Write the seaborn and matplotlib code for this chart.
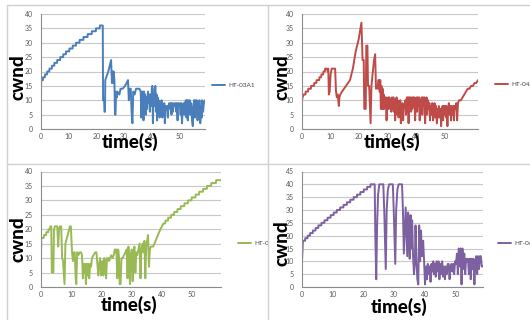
import matplotlib
matplotlib.use("Agg")
import matplotlib.pyplot as plt
from matplotlib.lines import Line2D
from matplotlib.transforms import Bbox, TransformedBbox
import seaborn as sns
import pandas as pd

# ---------------- data ----------------
labels = ["HT-03A1", "HT-04A1", "HT-05A1", "HT-06A1"]
colors = ["#4A7EBB", "#BE4B48", "#98B954", "#7D60A0"]
y_max = [40, 40, 40, 45]
x_ticks = [0, 10, 20, 30, 40, 50]

t1 = [0, 0.05, 0.7, 0.75, 1.4, 1.45, 2.2, 2.25, 3.0, 3.05, 3.9, 3.95, 4.8, 4.85, 5.8, 5.85, 6.9, 6.95, 8.0, 8.05,
      9.0, 9.05, 10.2, 10.25, 11.4, 11.45, 12.6, 12.65, 13.9, 13.95, 15.3, 15.35, 16.8, 16.85, 18.3, 18.35, 19.8, 19.85,
      21.2, 21.25, 22.3,
      22.4, 22.8, 22.9, 23.1, 23.2, 24.3, 25.3, 25.6, 25.8, 26.0, 26.2, 26.5, 26.7, 26.9, 27.1, 27.4, 27.6, 28.3, 28.7,
      29.5, 30.3, 30.9, 31.4, 31.7, 32.0, 32.4, 32.7, 33.0, 33.3, 33.8, 34.3, 35.5, 36.0, 36.2, 36.4, 36.6, 36.8, 37.0,
      37.2, 37.4, 37.6, 37.9, 38.1, 38.3, 38.6, 38.8, 39.1, 39.3, 39.5, 39.8, 40.0, 40.2, 40.4, 40.6, 40.8, 41.0, 41.3,
      41.5, 41.7, 41.9, 42.1, 42.3, 42.5, 42.8, 43.0, 43.3, 43.5, 43.8, 44.0, 44.3, 44.5, 44.7, 44.9, 45.2, 45.5, 45.8,
      46.0, 46.3, 46.6, 46.8, 47.1, 47.3, 47.6, 47.9, 48.2, 48.5, 48.8, 49.0, 49.3, 49.5, 49.8, 50.1, 50.4, 50.6, 50.9,
      51.2, 51.5, 51.8, 52.0, 52.3, 52.5, 52.7, 53.0, 53.2, 53.4, 53.7, 53.9, 54.2, 54.5, 54.8, 55.0, 55.3, 55.5, 55.7,
      56.0, 56.2, 56.5, 56.7, 57.0, 57.2, 57.5, 57.7, 58.0, 58.2, 58.5, 58.8, 59.2]
v1 = [10, 17, 17, 18, 18, 19, 19, 20, 20, 21, 21, 22, 22, 23, 23, 24, 24, 25, 25, 26,
      26, 27, 27, 28, 28, 29, 29, 30, 30, 31, 31, 32, 32, 33, 33, 34, 34, 35,
      35, 36, 36,
      10, 10, 6, 6, 17, 20, 24, 16, 20, 16, 20, 17, 5, 5, 13, 11, 13, 12, 14,
      14, 15, 16, 17, 10, 14, 14, 6, 2, 13, 12, 14, 14, 13, 4, 13, 6, 13, 3,
      13, 8, 12, 5, 11, 7, 13, 9, 12, 6, 12, 8, 14, 15, 2, 12, 8, 14, 15,
      6, 12, 3, 11, 6, 10, 4, 9, 5, 10, 4, 8, 5, 9, 2, 8, 7, 8, 4,
      8, 9, 7, 9, 5, 9, 6, 9, 8, 9, 6, 9, 3, 9, 8, 9, 5, 9, 2,
      8, 9, 5, 9, 10, 4, 10, 3, 10, 7, 10, 5, 9, 3, 1, 8, 10, 4, 10,
      6, 10, 3, 9, 5, 10, 2, 8, 4, 10, 6, 9, 10]

t2 = [0, 0.2, 0.6, 1.2, 1.3, 2.1, 2.2, 3.1, 3.2, 4.2, 4.3, 5.0, 5.1, 6.0, 6.1, 6.7, 6.8, 7.4, 7.5, 8.0,
      8.1, 8.8, 9.0, 9.2, 9.4, 9.7, 10.0, 10.4, 11.6, 11.9, 12.2, 12.5, 12.9, 13.1, 13.4, 14.0, 14.7, 15.4, 16.1, 16.8,
      17.3, 17.8, 18.3, 18.8, 19.3, 19.8, 20.3, 20.8, 21.0, 21.2, 21.6, 21.8, 22.3, 22.5, 22.9, 23.1, 23.5, 24.0, 24.3,
      24.8, 25.2, 25.6, 25.9, 26.2, 26.5, 26.7, 27.0, 27.2, 27.4, 27.6, 27.8, 28.0, 28.2, 28.4, 28.6, 28.8, 29.0, 29.2,
      29.4, 29.6, 29.8, 30.0, 30.2, 30.4, 30.6, 30.8, 31.1, 31.3, 31.5, 31.7, 32.0, 32.2, 32.4, 32.6, 32.8, 33.1, 33.3,
      33.5, 33.8, 34.0, 34.2, 34.4, 34.6, 34.8, 35.0, 35.2, 35.4, 35.6, 35.9, 36.2, 36.4, 36.7, 36.9, 37.1, 37.3, 37.5,
      37.7, 37.9, 38.2, 38.4, 38.6, 38.9, 39.1, 39.3, 39.6, 39.8, 40.1, 40.3, 40.5, 40.7, 41.0, 41.2, 41.4, 41.7, 41.9,
      42.1, 42.3, 42.6, 42.8, 43.1, 43.3, 43.6, 43.8, 44.1, 44.3, 44.6, 44.8, 45.1, 45.4, 45.6, 45.9, 46.1, 46.4, 46.7,
      46.9, 47.2, 47.4, 47.7, 47.9, 48.2, 48.5, 48.7, 48.9, 49.2, 49.4, 49.6, 49.9, 50.1, 50.4, 50.6, 50.9, 51.1, 51.4,
      51.7, 51.9, 52.2, 52.4, 52.7, 53.0, 53.2, 53.4, 53.7, 54.0, 54.3, 54.6, 55.0, 55.6, 56.2, 56.8, 57.4, 58.0, 58.6,
      59.2, 59.8, 60.4, 61.0, 61.6]
v2 = [10, 11, 12, 12, 13, 13, 14, 14, 15, 15, 16, 16, 17, 17, 18, 18, 19, 19, 20, 20,
      21, 21, 20, 21, 12, 13, 19, 21, 21, 13, 11, 12, 8, 11, 12, 13, 14, 15, 16, 17,
      19, 21, 24, 27, 29, 31, 34, 37, 30, 24, 24, 7, 7, 29, 29, 15, 15, 2, 15,
      20, 24, 26, 14, 15, 14, 17, 17, 13, 17, 7, 15, 7, 14, 7, 12, 7, 11, 8,
      11, 3, 10, 7, 11, 7, 11, 8, 10, 6, 11, 7, 11, 6, 10, 3, 9, 11, 5,
      10, 4, 9, 6, 10, 2, 8, 6, 9, 3, 7, 8, 10, 5, 11, 6, 11, 2, 11,
      7, 11, 6, 11, 7, 11, 8, 11, 3, 10, 11, 6, 11, 8, 11, 3, 10, 7, 11,
      5, 11, 8, 11, 2, 9, 11, 5, 10, 7, 9, 3, 8, 5, 9, 3, 7, 9, 4,
      8, 2, 7, 4, 8, 4, 7, 1, 6, 8, 3, 8, 5, 8, 4, 8, 1, 6, 9,
      5, 8, 3, 8, 5, 8, 3, 8, 7, 9, 3, 9, 10, 10, 11, 12, 13, 14, 14,
      15, 15, 16, 16, 17]

t3 = [0, 0.1, 0.9, 1.0, 1.7, 1.8, 2.4, 2.5, 3.0, 3.1, 3.4, 3.6, 4.1, 4.3, 4.6, 5.4, 5.7, 6.0, 6.3, 6.7,
      7.0, 7.3, 7.8, 8.1, 8.6, 9.1, 9.6, 9.9, 10.3, 10.6, 10.9, 11.2, 11.5, 11.7, 12.0, 12.4, 12.8, 13.3, 13.6, 13.9,
      14.1, 14.3, 14.6, 14.9, 15.2, 15.4, 15.7, 16.0, 16.3, 16.6, 16.9, 17.4, 18.0, 18.4, 18.7, 19.0, 19.3, 19.6, 19.9,
      20.2, 20.4, 20.7, 21.0, 21.3, 21.6, 21.9, 22.3, 22.6, 22.9, 23.3, 23.7, 24.1, 24.5, 24.8, 25.0, 25.3, 25.6, 25.9,
      26.1, 26.4, 26.7, 27.1, 27.5, 28.0, 28.4, 28.7, 29.0, 29.3, 29.5, 29.8, 30.1, 30.4, 30.7, 31.0, 31.3, 31.6, 31.9,
      32.3, 32.7, 33.0, 33.3, 33.7, 34.0, 34.3, 34.6, 34.9, 35.2, 35.5, 35.8, 36.1, 36.4, 37.2, 37.6, 38.0, 38.4, 38.8,
      39.2, 39.6, 40.1, 40.6, 41.2, 41.3, 42.1, 42.2, 43.1, 43.2, 44.1, 44.2, 45.2, 45.3, 46.3, 46.4, 47.5, 47.6, 48.7,
      48.8, 49.9, 50.0, 51.2, 51.3, 52.4, 52.5, 53.7, 53.8, 55.0, 55.1, 56.4, 56.5, 58.0, 58.1, 59.7]
v3 = [10, 17, 17, 18, 18, 19, 19, 20, 20, 21, 21, 5, 5, 20, 21, 21, 14, 20, 21, 21,
      10, 9, 1, 15, 17, 19, 21, 21, 12, 9, 12, 12, 3, 1, 12, 11, 12, 12, 11, 3,
      8, 5, 8, 1, 8, 4, 8, 3, 8, 7, 10, 11, 12, 12, 8, 4, 8, 10, 4,
      8, 9, 4, 10, 8, 3, 10, 10, 9, 10, 11, 10, 11, 13, 12, 13, 3, 13, 10,
      1, 1, 10, 10, 11, 12, 13, 3, 14, 8, 1, 11, 13, 2, 12, 14, 5, 12, 11,
      13, 15, 3, 13, 15, 12, 16, 3, 14, 16, 18, 7, 13, 14, 14, 15, 16, 17, 18,
      19, 20, 21, 22, 22, 23, 23, 24, 24, 25, 25, 26, 26, 27, 27, 28, 28, 29, 29,
      30, 30, 31, 31, 32, 32, 33, 33, 34, 34, 35, 35, 36, 36, 37, 37]

t4 = [0, 0.3, 1.0, 1.05, 1.8, 1.85, 2.6, 2.65, 3.5, 3.55, 4.4, 4.45, 5.3, 5.35, 6.3, 6.35, 7.3, 7.35, 8.3, 8.35,
      9.3, 9.35, 10.3, 10.35, 11.3, 11.35, 12.4, 12.45, 13.5, 13.55, 14.6, 14.65, 15.7, 15.75, 16.8, 16.85, 17.9, 17.95,
      19.0, 19.05, 20.1, 20.15, 21.2, 21.25, 22.3, 22.35, 23.7,
      23.9, 24.2, 24.5, 24.8, 25.2, 26.5, 26.8, 27.3, 27.6, 28.0, 28.4, 29.6, 29.9, 30.4, 30.7, 31.1, 31.5, 32.6, 32.9,
      33.2, 33.5, 33.8, 34.1, 34.3, 34.6, 34.9, 35.1, 35.4, 35.7, 35.9, 36.2, 36.5, 36.8, 37.0, 37.3, 37.6, 37.9, 38.2,
      38.5, 38.8, 39.1, 39.5, 39.8, 40.1, 40.4, 40.7, 41.0, 41.3, 41.6, 41.9, 42.2, 42.5, 42.8, 43.0, 43.3, 43.6, 43.9,
      44.2, 44.5, 44.8, 45.1, 45.4, 45.7, 46.0, 46.3, 46.6, 46.9, 47.2, 47.5, 47.8, 48.1, 48.4, 48.7, 49.0, 49.3, 49.6,
      49.9, 50.2, 50.5, 50.8, 51.1, 51.4, 51.7, 52.0, 52.3, 52.6, 52.9, 53.2, 53.5, 53.8, 54.1, 54.4, 54.7, 55.0, 55.3,
      55.6, 55.9, 56.2, 56.5, 56.8, 57.1, 57.4, 57.7, 58.0, 58.3, 58.6, 59.0]
v4 = [10, 18, 18, 19, 19, 20, 20, 21, 21, 22, 22, 23, 23, 24, 24, 25, 25, 26, 26, 27,
      27, 28, 28, 29, 29, 30, 30, 31, 31, 32, 32, 33, 33, 34, 34, 35, 35, 36,
      36, 37, 37, 38, 38, 39, 39, 40, 40,
      20, 3, 25, 36, 40, 40, 30, 7, 30, 38, 40, 40, 30, 9, 30, 38, 40, 40, 30,
      13, 22, 31, 20, 12, 29, 20, 11, 28, 15, 26, 12, 5, 10, 24, 10, 3, 1, 24,
      10, 22, 12, 18, 10, 1, 8, 3, 9, 5, 8, 2, 9, 6, 10, 5, 9, 4, 10,
      6, 10, 3, 9, 5, 10, 4, 8, 3, 8, 5, 9, 9, 3, 8, 9, 6, 9, 5,
      10, 9, 13, 5, 15, 8, 15, 1, 15, 7, 13, 5, 11, 10, 11, 5, 11, 3, 11,
      7, 11, 1, 9, 12, 5, 12, 7, 12, 12, 8, 8]

series = [(t1, v1), (t2, v2), (t3, v3), (t4, v4)]

# ---------------- layout (pixel geometry of the 530x320 canvas) ----------------
W, H = 530, 320
fig = plt.figure(figsize=(W / 100, H / 100), dpi=100)
sns.set_style("white")
plt.rcParams['font.family'] = ['Lato', 'DejaVu Sans']

def fx(px):
    return px / W

def fy(py):
    return 1 - py / H

# plot rectangles: left, right, top, bottom (pixels)
rects = [(41, 205, 14, 129), (302, 478, 14, 129), (41, 221, 171.5, 287), (302, 483, 171.5, 287)]
# legend line start (x, y) and clip right edge
legpos = [(212, 85, 268), (495, 84, 530), (238, 243, 268), (498, 243, 530)]
ylab = [(26, 77.5), (291, 77.5), (26, 239), (291, 243.5)]
xlab = [(130, 132.5), (392, 132.5), (129.5, 296), (399, 298)]
quad_top = [5, 5, 164, 164]

for i, ((t, v), (l, r, tp, b)) in enumerate(zip(series, rects)):
    ax = fig.add_axes([fx(l), fy(b), fx(r) - fx(l), fy(tp) - fy(b)])
    df = pd.DataFrame({"time": t, "cwnd": v})
    sns.lineplot(data=df, x="time", y="cwnd", ax=ax, sort=False, estimator=None,
                 color=colors[i], lw=1.4, label=labels[i])
    ax.set_xlim(0, t[-1])
    ax.set_ylim(0, y_max[i])
    ax.set_xticks(x_ticks)
    ax.set_yticks(list(range(0, y_max[i] + 1, 5)))
    ax.grid(axis="y", color="#C8C8C8", lw=0.8)
    ax.grid(axis="x", visible=False)
    for s in ["top", "right"]:
        ax.spines[s].set_visible(False)
    for s in ["left", "bottom"]:
        ax.spines[s].set_color("#8C8C8C")
        ax.spines[s].set_linewidth(0.8)
    ax.tick_params(axis="y", length=2, width=0.8, color="#8C8C8C", pad=4,
                   labelsize=5, labelcolor="#595959")
    ax.tick_params(axis="x", length=0, pad=3, labelsize=5, labelcolor="#595959")
    ax.set_xlabel("time(s)", fontsize=13.5, fontweight="black", color="black")
    ax.set_ylabel("cwnd", fontsize=13.5, fontweight="black", color="black")
    ax.xaxis.set_label_coords(fx(xlab[i][0]), fy(xlab[i][1]), transform=fig.transFigure)
    ax.yaxis.set_label_coords(fx(ylab[i][0]), fy(ylab[i][1]), transform=fig.transFigure)

    lx, ly, clip_r = legpos[i]
    leg = ax.legend(loc="center left", bbox_to_anchor=(fx(lx), fy(ly)),
                    bbox_transform=fig.transFigure, frameon=False, fontsize=4.6,
                    handlelength=2.1, handletextpad=0.4, borderpad=0, borderaxespad=0)
    clipbox = TransformedBbox(Bbox.from_extents(0, fy(320), fx(clip_r), fy(quad_top[i])),
                              fig.transFigure)
    for txt in leg.get_texts():
        txt.set_color("#404040")
        txt.set_clip_on(True)
        txt.set_clip_box(clipbox)

# table-like separators
sep = "#D0D0D0"
for (x0, y0, x1, y1) in [(7, 5, 7, 320), (7, 5, 530, 5), (268, 5, 268, 320), (7, 164, 530, 164)]:
    fig.add_artist(Line2D([fx(x0), fx(x1)], [fy(y0), fy(y1)], transform=fig.transFigure,
                          color=sep, lw=1.0))

fig.savefig("out.png", dpi=100)
